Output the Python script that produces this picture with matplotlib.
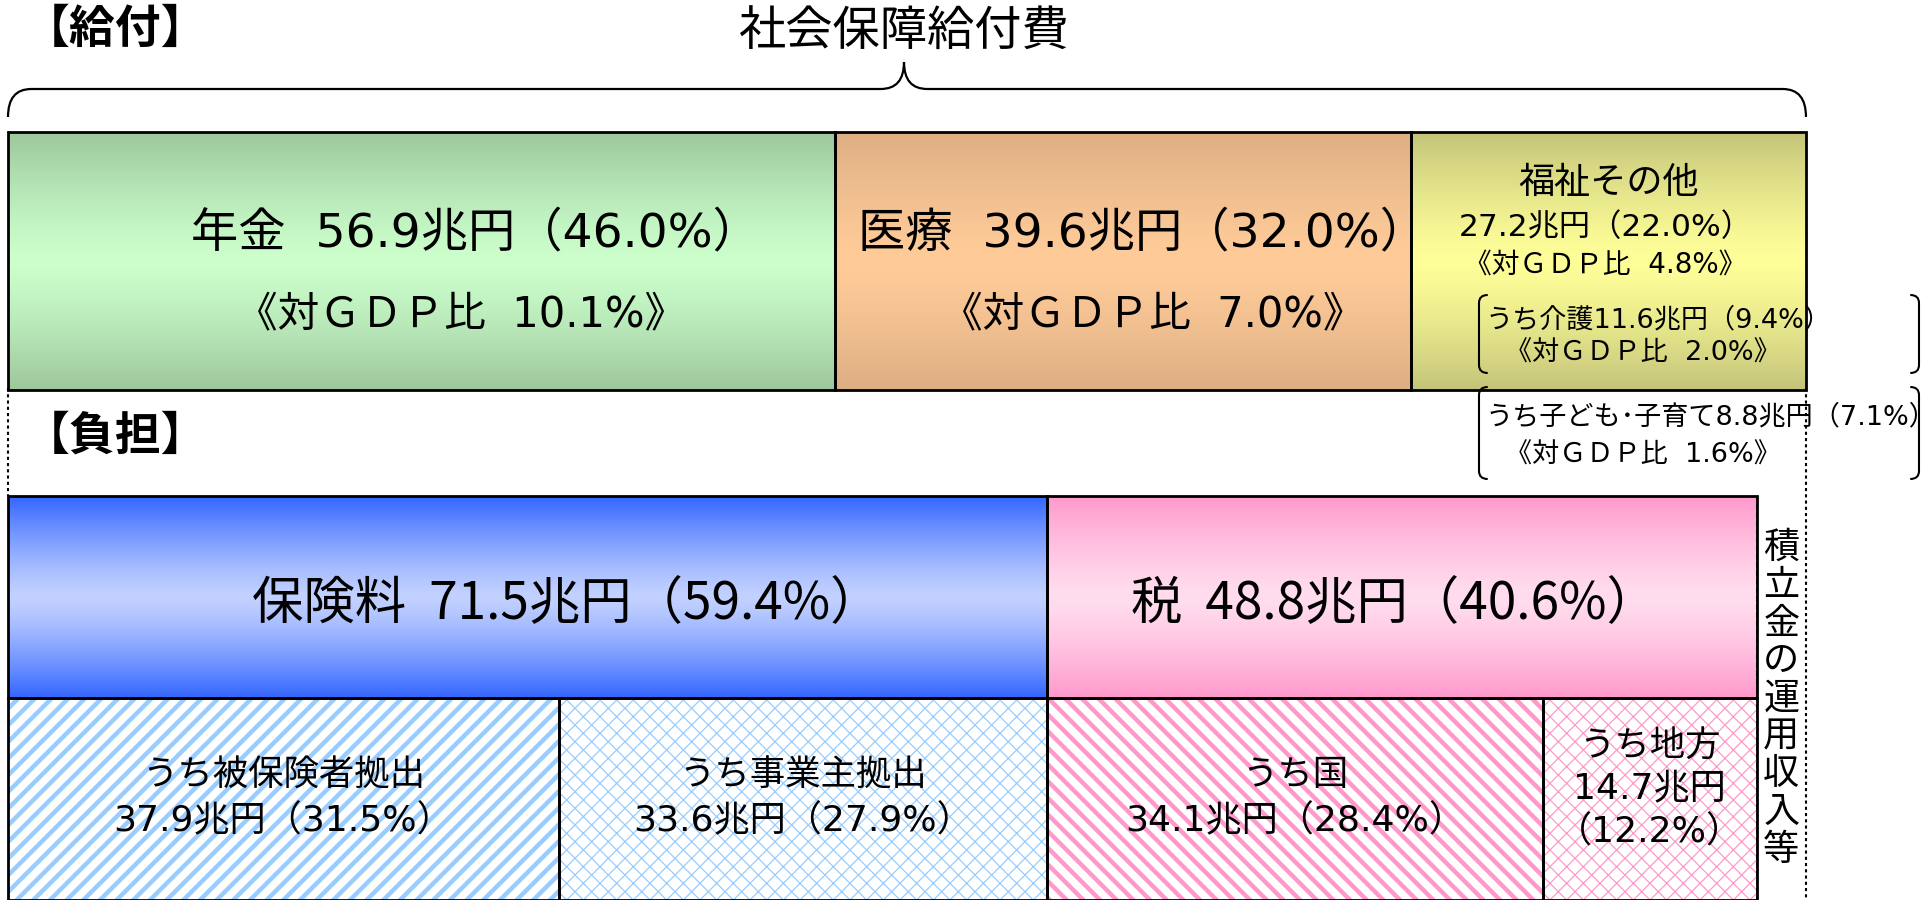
import numpy as np
import matplotlib.pyplot as plt
import matplotlib.colors as mcolors
from matplotlib.path import Path
from matplotlib.patches import PathPatch

plt.rcParams['font.family'] = ['Noto Sans CJK JP', 'DejaVu Sans']
WIDE = ['DejaVu Sans', 'Noto Sans CJK JP']   # wide digits like the top row

# ---- data (兆円) ----
benefit_names = ['年金', '医療', '福祉その他']
benefit_values = [56.9, 39.6, 27.2]
benefit_shares = [46.0, 32.0, 22.0]
benefit_gdp = [10.1, 7.0, 4.8]

inner_names = ['うち介護', 'うち子ども･子育て']
inner_values = [11.6, 8.8]
inner_shares = [9.4, 7.1]
inner_gdp = [2.0, 1.6]

burden_names = ['保険料', '税']
burden_values = [71.5, 48.8]
burden_shares = [59.4, 40.6]

sub_names = ['うち被保険者拠出', 'うち事業主拠出', 'うち国', 'うち地方']
sub_values = [37.9, 33.6, 34.1, 14.7]
sub_shares = [31.5, 27.9, 28.4, 12.2]

other_name = '積立金の運用収入等'

# ---- figure ----
px = 14.535  # pixels per 兆円
fig = plt.figure(figsize=(19.33, 9), dpi=100)
ax = fig.add_axes([0, 0, 1, 1])


def gradient(patch, edge, mid):
    x0, y0 = patch.get_x(), patch.get_y()
    w, h = patch.get_width(), patch.get_height()
    t = np.linspace(0, 1, 256)
    f = np.abs(2 * t - 1) ** 1.3
    c0 = np.array(mcolors.to_rgb(edge))
    c1 = np.array(mcolors.to_rgb(mid))
    img = (c1 + (c0 - c1) * f[:, None])[:, None, :]
    ax.imshow(img, extent=(x0, x0 + w, y0 + h, y0), aspect='auto',
              interpolation='bilinear', zorder=1)


# top row: 給付
top_y, top_h = 261, 258
ben_left = np.concatenate([[0], np.cumsum(benefit_values)[:-1]])
ben_cols = [('#9DC79D', '#CCFFCC'), ('#DDAE84', '#FFCC99'), ('#C4C47A', '#FFFF99')]
bars = ax.barh(top_y, benefit_values, top_h, left=ben_left,
               facecolor='none', edgecolor='black', linewidth=2, zorder=3)
for b, (e, m) in zip(bars, ben_cols):
    gradient(b, e, m)

# 年金 / 医療 labels
for i, frac, gfrac in [(0, 0.565, 0.548), (1, 0.535, 0.552)]:
    ax.text(ben_left[i] + frac * benefit_values[i], 234,
            f'{benefit_names[i]}  {benefit_values[i]}兆円（{benefit_shares[i]}%）',
            ha='center', va='center', fontsize=34, family=WIDE)
    ax.text(ben_left[i] + gfrac * benefit_values[i], 314,
            f'《対ＧＤＰ比  {benefit_gdp[i]}%》',
            ha='center', va='center', fontsize=30, family=WIDE)

# 福祉その他
cx = ben_left[2] + benefit_values[2] / 2
ax.text(cx, 183, benefit_names[2], ha='center', va='center', fontsize=26)
ax.text(cx - 0.2, 227, f'{benefit_values[2]}兆円（{benefit_shares[2]}%）',
        ha='center', va='center', fontsize=22.5, family=WIDE)
ax.text(cx - 0.2, 265, f'《対ＧＤＰ比  {benefit_gdp[2]}%》',
        ha='center', va='center', fontsize=20, family=WIDE)

# inner breakdown with brackets
bx0 = (1479 - 8) / px
bx1 = (1919 - 8) / px
for k, (ytop, ybot) in enumerate([(295, 373), (387, 479)]):
    ymid1 = ytop + (ybot - ytop) * 0.33
    ymid2 = ytop + (ybot - ytop) * 0.75
    ax.text(bx0 + 0.45, ymid1, f'{inner_names[k]}{inner_values[k]}兆円（{inner_shares[k]}%）',
            ha='left', va='center', fontsize=19.5, family=WIDE, zorder=5)
    ax.text(bx0 + 1.8, ymid2, f'《対ＧＤＰ比  {inner_gdp[k]}%》',
            ha='left', va='center', fontsize=19.5, family=WIDE, zorder=5)
    r = 0.6
    for xe, s in [(bx0, 1), (bx1, -1)]:
        verts = [(xe + s * r, ytop), (xe, ytop), (xe, ytop + 8),
                 (xe, ybot - 8), (xe, ybot), (xe + s * r, ybot)]
        codes = [Path.MOVETO, Path.CURVE3, Path.CURVE3,
                 Path.LINETO, Path.CURVE3, Path.CURVE3]
        ax.add_patch(PathPatch(Path(verts, codes), fill=False, lw=1.5,
                               edgecolor='black', zorder=5))

# brace over 給付
total = sum(benefit_values)
tip = 62
yb = 89
r = 1.6
mid = (904 - 8) / px
verts = [(0, 117), (0, yb), (r, yb),
         (mid - r, yb), (mid, yb), (mid, tip),
         (mid, yb), (mid + r, yb),
         (total - r, yb), (total, yb), (total, 117)]
codes = [Path.MOVETO, Path.CURVE3, Path.CURVE3,
         Path.LINETO, Path.CURVE3, Path.CURVE3,
         Path.CURVE3, Path.CURVE3,
         Path.LINETO, Path.CURVE3, Path.CURVE3]
ax.add_patch(PathPatch(Path(verts, codes), fill=False, lw=1.6, edgecolor='black'))
ax.text(mid, 33, '社会保障給付費', ha='center', va='center', fontsize=34)

ax.text((24 - 8) / px, 30, '【給付】', ha='left', va='center', fontsize=33, fontweight='bold')
ax.text((24 - 8) / px, 437, '【負担】', ha='left', va='center', fontsize=33, fontweight='bold')

# burden row
bur_y, bur_h = 597, 202
bur_left = np.concatenate([[0], np.cumsum(burden_values)[:-1]])
bur_cols = [('#3366FF', '#C2D1FF'), ('#FF99CC', '#FFDDEE')]
bars = ax.barh(bur_y, burden_values, bur_h, left=bur_left,
               facecolor='none', edgecolor='black', linewidth=2, zorder=3)
for b, (e, m) in zip(bars, bur_cols):
    gradient(b, e, m)
for i, frac in enumerate([0.538, 0.49]):
    ax.text(bur_left[i] + frac * burden_values[i], 604,
            f'{burden_names[i]}  {burden_values[i]}兆円（{burden_shares[i]}%）',
            ha='center', va='center', fontsize=37, zorder=4)

# sub row
sub_y, sub_h = 799, 202
sub_left = np.concatenate([[0], np.cumsum(sub_values)[:-1]])
sub_style = [('#99CCFF', '//', 3.2), ('#99CCFF', 'xx', 0.9),
             ('#FF99CC', '\\\\', 3.2), ('#FF99CC', 'xx', 0.9)]
for i, (c, h, lw) in enumerate(sub_style):
    with plt.rc_context({'hatch.linewidth': lw}):
        hb = ax.barh(sub_y, sub_values[i], sub_h, left=sub_left[i],
                     facecolor='white', edgecolor=c, hatch=h, linewidth=0, zorder=1)
    for p in hb:
        if hasattr(p, 'set_hatch_linewidth'):
            p.set_hatch_linewidth(lw)
ax.barh(sub_y, sub_values, sub_h, left=sub_left, facecolor='none',
        edgecolor='black', linewidth=2, zorder=3)
for i in range(3):
    cx = sub_left[i] + sub_values[i] / 2
    ax.text(cx, 775, sub_names[i], ha='center', va='center', fontsize=25.5, zorder=4)
    ax.text(cx, 821, f'{sub_values[i]}兆円（{sub_shares[i]}%）',
            ha='center', va='center', fontsize=26, family=WIDE, zorder=4)
cx = sub_left[3] + sub_values[3] / 2
ax.text(cx, 746, sub_names[3], ha='center', va='center', fontsize=25.5, zorder=4)
ax.text(cx, 789, f'{sub_values[3]}兆円', ha='center', va='center', fontsize=26,
        family=WIDE, zorder=4)
ax.text(cx, 832, f'（{sub_shares[3]}%）', ha='center', va='center', fontsize=26,
        family=WIDE, zorder=4)

# 積立金の運用収入等 column
bur_total = sum(burden_values)
ax.plot([bur_total, bur_total], [496, 900], color='black', lw=1.2, ls=(0, (3, 2)), zorder=4)
ax.plot([total, total], [388, 900], color='black', lw=1.5, ls=(0, (1.5, 1.5)), zorder=4)
ax.plot([0, 0], [388, 496], color='black', lw=1.5, ls=(0, (1.5, 1.5)), zorder=4)
cx = (bur_total + total) / 2
step = 37.7
for j, ch in enumerate(other_name):
    ax.text(cx, 699 + (j - 4) * step, ch, ha='center', va='center', fontsize=26, zorder=5)

ax.set_xlim(-8 / px, (1933 - 8) / px)
ax.set_ylim(900, 0)
ax.axis('off')
fig.savefig('out.png', dpi=100)
